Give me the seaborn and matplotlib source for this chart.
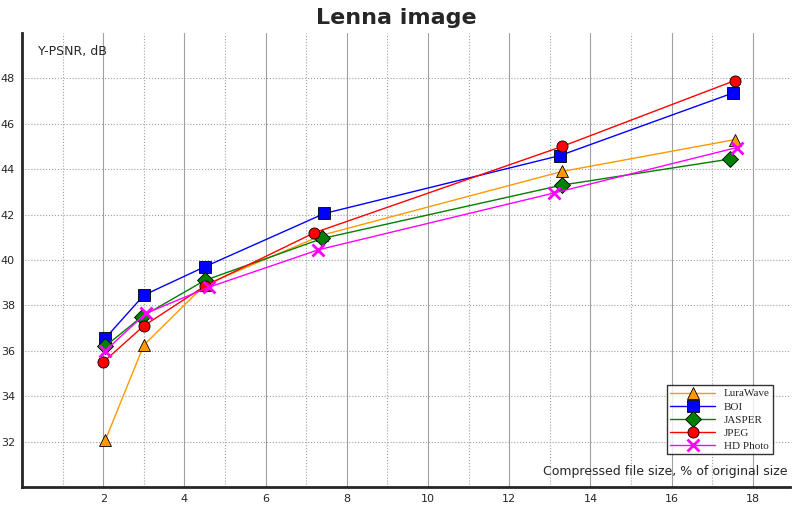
import matplotlib
matplotlib.use("Agg")
import matplotlib.pyplot as plt
import seaborn as sns
import pandas as pd

names = ["LuraWave", "BOI", "JASPER", "JPEG", "HD Photo"]
colors = ["#ff9900", "#0000ff", "#008000", "#ff0000", "#ff00ff"]
markers = ["^", "s", "D", "o", "x"]
x_lura = [2.05, 3.0, 4.5, 7.4, 13.3, 17.55]
y_lura = [32.05, 36.25, 38.9, 41.1, 43.9, 45.3]
x_boi = [2.05, 3.0, 4.5, 7.45, 13.25, 17.5]
y_boi = [36.55, 38.45, 39.7, 42.05, 44.6, 47.35]
x_jas = [2.05, 2.95, 4.5, 7.4, 13.3, 17.45]
y_jas = [36.2, 37.5, 39.1, 40.95, 43.3, 44.45]
x_jpg = [2.0, 3.0, 4.5, 7.2, 13.3, 17.55]
y_jpg = [35.5, 37.1, 38.85, 41.2, 45.0, 47.9]
x_hd = [2.05, 3.05, 4.6, 7.3, 13.1, 17.6]
y_hd = [36.0, 37.65, 38.8, 40.45, 42.95, 44.95]
xs = [x_lura, x_boi, x_jas, x_jpg, x_hd]
ys = [y_lura, y_boi, y_jas, y_jpg, y_hd]

sns.set_style("white")
fig = plt.figure(figsize=(7.93, 5.08), dpi=100)
ax = fig.add_axes([22/793, 21/508, 768/793, 454/508])
x1 = 768/40.6
ax.set_xlim(0, x1)
ax.set_ylim(30, 30 + 454/22.7)

for v in range(1, 19):
    ax.axvline(v, color="#a0a0a0", lw=0.8, ls="-" if v % 2 == 0 else ":", zorder=0)
for v in range(32, 50, 2):
    ax.axhline(v, color="#a0a0a0", lw=0.8, ls=":", zorder=0)

for n, c, m, x, y in zip(names, colors, markers, xs, ys):
    df = pd.DataFrame({"x": x, "y": y})
    ms = 8 if m != "x" else 9
    sns.lineplot(data=df, x="x", y="y", ax=ax, color=c, lw=1, marker=m, markersize=ms,
                 markeredgecolor=("black" if m != "x" else c), markeredgewidth=(0.6 if m != "x" else 2),
                 label=n, sort=False)

for s in ["top", "right"]:
    ax.spines[s].set_visible(False)
ax.spines["left"].set_linewidth(2)
ax.spines["bottom"].set_linewidth(2)
ax.set_xticks(range(2, 19, 2))
ax.set_yticks(range(32, 50, 2))
ax.tick_params(direction="inout", length=8, width=1, labelsize=8, pad=1)
ax.set_xlabel(""); ax.set_ylabel("")
ax.text(0.4, 49.2, "Y-PSNR, dB", fontsize=9, va="center")
ax.text(x1 - 0.05, 30.7, "Compressed file size, % of original size", fontsize=9, ha="right", va="center")
fig.text(0.5, 0.965, "Lenna image", ha="center", va="center", fontsize=16, fontweight="bold")
leg = ax.legend(loc="lower right", bbox_to_anchor=(0.985, 0.06), frameon=True,
                fancybox=False, handlelength=4, labelspacing=0.3, borderpad=0.3,
                prop={"family": "Liberation Serif", "size": 8})
leg.get_frame().set_edgecolor("black")
fig.savefig("out.png", dpi=100)
